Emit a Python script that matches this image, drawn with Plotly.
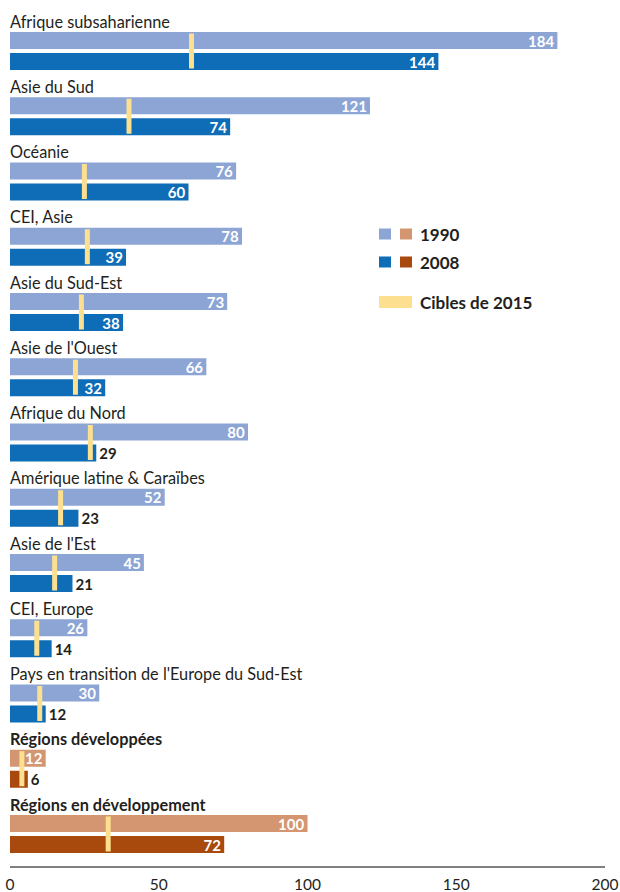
import plotly.graph_objects as go

regions = ["Afrique subsaharienne", "Asie du Sud", "Océanie", "CEI, Asie",
           "Asie du Sud-Est", "Asie de l'Ouest", "Afrique du Nord",
           "Amérique latine & Caraïbes", "Asie de l'Est", "CEI, Europe",
           "Pays en transition de l'Europe du Sud-Est",
           "Régions développées", "Régions en développement"]
v1990 = [184, 121, 76, 78, 73, 66, 80, 52, 45, 26, 30, 12, 100]
v2008 = [144, 74, 60, 39, 38, 32, 29, 23, 21, 14, 12, 6, 72]
target2015 = [61, 40, 25, 26, 24, 22, 27, 17, 15, 9, 10, 4, 33]
aggregate = [False] * 11 + [True, True]

C1990, C2008 = "#8DA5D5", "#0F6CB6"
B1990, B2008 = "#D39670", "#A8490D"
YEL = "#FDE08F"
DARK = "#231F20"
FONT = "Lato"

PITCH = 65.25
n = len(regions)
lab_y = [21 + PITCH * i for i in range(n)]
y90 = [40.5 + PITCH * i for i in range(n)]
y08 = [61.5 + PITCH * i for i in range(n)]

def tpos(vals):
    return ["inside" if v >= 32 else "outside" for v in vals]

valfont_in = dict(color="white", size=15, family=FONT, weight="bold")
valfont_out = dict(color=DARK, size=15, family=FONT, weight="bold")

fig = go.Figure()
fig.add_trace(go.Bar(
    x=v1990, y=y90, orientation="h", width=17,
    marker=dict(color=[B1990 if a else C1990 for a in aggregate], line_width=0),
    text=[str(v) for v in v1990], textposition=["inside"] * n,
    insidetextanchor="end", textangle=0, constraintext="none",
    insidetextfont=valfont_in, outsidetextfont=valfont_out,
    cliponaxis=False, showlegend=False, hoverinfo="skip"))
fig.add_trace(go.Bar(
    x=v2008, y=y08, orientation="h", width=17,
    marker=dict(color=[B2008 if a else C2008 for a in aggregate], line_width=0),
    text=[str(v) for v in v2008], textposition=tpos(v2008),
    insidetextanchor="end", textangle=0, constraintext="none",
    insidetextfont=valfont_in, outsidetextfont=valfont_out,
    cliponaxis=False, showlegend=False, hoverinfo="skip"))

for i, t in enumerate(target2015):
    fig.add_trace(go.Scatter(
        x=[t, t], y=[y90[i] - 7, y08[i] + 7], mode="lines",
        line=dict(color=YEL, width=5), showlegend=False, hoverinfo="skip"))

for i, r in enumerate(regions):
    fig.add_annotation(
        x=0, y=lab_y[i], xref="x", yref="y", text=r, showarrow=False,
        xanchor="left", yanchor="middle", xshift=-2,
        font=dict(family=FONT, size=16.3, color=DARK,
                  weight="bold" if aggregate[i] else "normal"))

# legend
W = 595.0
def px(p):
    return (p - 10) / W

legend_rows = [("1990", 234, C1990, B1990), ("2008", 262, C2008, B2008)]
for label, yc, c1, c2 in legend_rows:
    fig.add_shape(type="rect", xref="paper", yref="y", x0=px(379), x1=px(391),
                  y0=yc - 5.5, y1=yc + 5.5, fillcolor=c1, line_width=0)
    fig.add_shape(type="rect", xref="paper", yref="y", x0=px(400), x1=px(412),
                  y0=yc - 5.5, y1=yc + 5.5, fillcolor=c2, line_width=0)
    fig.add_annotation(x=px(418), y=yc, xref="paper", yref="y", text=label,
                       showarrow=False, xanchor="left", yanchor="middle",
                       font=dict(family=FONT, size=17, color=DARK, weight="bold"))
fig.add_shape(type="rect", xref="paper", yref="y", x0=px(379), x1=px(412),
              y0=296, y1=308, fillcolor=YEL, line_width=0)
fig.add_annotation(x=px(418), y=302, xref="paper", yref="y", text="Cibles de 2015",
                   showarrow=False, xanchor="left", yanchor="middle",
                   font=dict(family=FONT, size=17, color=DARK, weight="bold"))

fig.update_layout(
    width=620, height=892, margin=dict(l=10, r=15, t=0, b=26),
    paper_bgcolor="white", plot_bgcolor="white", barmode="overlay",
    xaxis=dict(range=[0, 200], tickvals=[0, 50, 100, 150, 200],
               showgrid=False, zeroline=False, showline=True,
               linecolor="#808080", linewidth=1.5, ticks="",
               ticklabelstandoff=4,
               tickfont=dict(family=FONT, size=15.5, color=DARK)),
    yaxis=dict(range=[866, 0], visible=False, fixedrange=True),
)
fig.write_html("out.html")
